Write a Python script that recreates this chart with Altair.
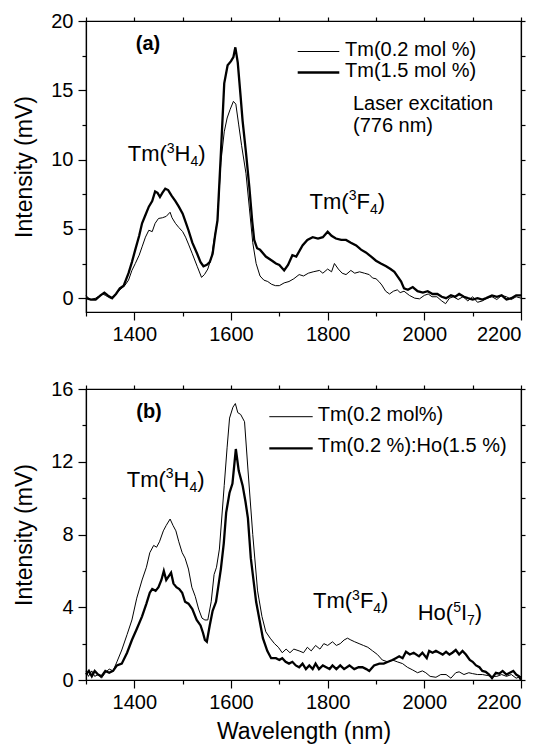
import altair as alt
import pandas as pd

FONT = "Liberation Sans"

# ---------------- panel (a) ----------------
a_thin_name = "Tm(0.2 mol %)"
a_thick_name = "Tm(1.5 mol %)"
a_thin_wl = [1300, 1305, 1310, 1320, 1330, 1335, 1340, 1350, 1355, 1360, 1370, 1380, 1388, 1395, 1402,
             1410, 1416, 1423, 1430, 1437, 1443, 1450, 1458, 1466, 1474, 1478, 1485, 1492, 1500, 1506,
             1512, 1520, 1530, 1539, 1545, 1552, 1560, 1565, 1572, 1579, 1586, 1592, 1598, 1605, 1610,
             1616, 1622, 1631, 1638, 1645, 1652, 1660, 1668, 1676, 1684, 1692, 1700, 1710, 1720, 1730,
             1741, 1750, 1760, 1770, 1783, 1790, 1800, 1808, 1814, 1822, 1830, 1838, 1848, 1856, 1866,
             1876, 1886, 1893, 1900, 1906, 1912, 1920, 1928, 1936, 1944, 1950, 1958, 1969, 1980, 1990,
             2000, 2008, 2016, 2026, 2036, 2044, 2052, 2060, 2070, 2080, 2090, 2100, 2110, 2120, 2130,
             2140, 2150, 2160, 2170, 2180, 2190, 2200]
a_thin_mv = [0.2, 0.0, -0.1, 0.0, 0.2, 0.3, 0.2, 0.0, 0.0, 0.2, 0.6, 0.9, 1.3, 2.0, 2.5,
             3.1, 3.7, 4.4, 4.9, 4.8, 5.4, 5.75, 5.8, 5.9, 6.2, 5.8, 5.4, 5.1, 4.8, 4.4,
             3.9, 3.2, 2.3, 1.5, 1.7, 2.1, 3.0, 4.2, 5.6, 9.8, 12.0, 13.0, 13.6, 14.2, 14.0,
             12.5, 11.0, 9.0, 6.5, 4.0, 2.5, 1.6, 1.3, 1.2, 1.0, 0.9, 0.9, 1.1, 1.2, 1.4,
             1.7, 1.6, 1.8, 1.9, 2.0, 1.8, 2.1, 1.9, 2.5, 2.1, 1.8, 1.7, 2.0, 1.8, 1.9,
             1.8, 1.7, 1.45, 1.4, 1.2, 0.95, 0.5, 0.3, 0.5, 0.6, 0.4, 0.5, 0.2, 0.0, -0.05,
             0.2, 0.3, 0.1, 0.1, -0.2, -0.4, 0.0, 0.1, -0.1, 0.1, -0.2, 0.1, -0.3, -0.2, 0.0,
             0.1, -0.1, 0.2, 0.1, -0.1, 0.1, 0.0]
a_thick_wl = [1300, 1310, 1320, 1330, 1338, 1345, 1354, 1362, 1370, 1378, 1388, 1395, 1402, 1410, 1416,
              1423, 1430, 1437, 1443, 1448, 1453, 1458, 1464, 1470, 1477, 1485, 1492, 1500, 1506, 1512,
              1520, 1530, 1537, 1543, 1550, 1556, 1562, 1567, 1572, 1579, 1586, 1593, 1600, 1605, 1609,
              1614, 1620, 1624, 1631, 1638, 1644, 1648, 1654, 1660, 1672, 1685, 1693, 1700, 1710, 1718,
              1727, 1735, 1748, 1758, 1769, 1780, 1790, 1800, 1808, 1817, 1828, 1838, 1848, 1859, 1869,
              1879, 1890, 1900, 1910, 1921, 1930, 1938, 1946, 1952, 1958, 1966, 1976, 1986, 1997, 2007,
              2017, 2027, 2036, 2045, 2055, 2064, 2072, 2082, 2090, 2100, 2110, 2120, 2128, 2140, 2150,
              2160, 2170, 2180, 2190, 2200]
a_thick_mv = [0.0, -0.1, -0.1, 0.2, 0.4, 0.2, 0.0, 0.3, 0.7, 0.9, 1.8, 2.6, 3.5, 4.5, 5.4,
              6.0, 6.6, 7.0, 7.7, 7.6, 7.3, 7.6, 7.9, 7.8, 7.4, 7.0, 6.6, 6.1, 5.5, 4.9,
              4.0, 3.2, 2.6, 2.3, 2.4, 2.6, 3.2, 4.5, 5.6, 10.4, 15.5, 16.8, 17.1, 17.4, 18.1,
              17.0, 14.5, 12.8, 10.5, 8.0, 5.5, 4.2, 3.6, 3.5, 3.0, 2.7, 2.5, 2.4, 2.0, 2.4,
              3.1, 3.0, 3.8, 4.2, 4.4, 4.3, 4.4, 4.8, 4.5, 4.3, 4.2, 4.2, 4.0, 3.8, 3.5,
              3.3, 3.0, 2.7, 2.5, 2.3, 2.1, 1.9, 1.5, 1.2, 0.7, 0.6, 0.8, 0.5, 0.4, 0.5,
              0.3, 0.3, 0.1, 0.0, 0.2, 0.1, 0.3, 0.1, 0.0, -0.1, 0.0, -0.1, 0.0, 0.2, 0.1,
              0.2, -0.1, 0.0, 0.2, 0.2]

# ---------------- panel (b) ----------------
b_thin_name = "Tm(0.2 mol%)"
b_thick_name = "Tm(0.2 %):Ho(1.5 %)"
b_thin_wl = [1300, 1305, 1312, 1318, 1325, 1332, 1340, 1348, 1356, 1364, 1374, 1385, 1395, 1405, 1416,
             1425, 1432, 1440, 1446, 1452, 1460, 1466, 1474, 1480, 1486, 1492, 1499, 1505, 1512, 1519,
             1526, 1533, 1540, 1546, 1552, 1559, 1565, 1570, 1576, 1586, 1592, 1597, 1604, 1609, 1614,
             1620, 1628, 1635, 1645, 1655, 1664, 1672, 1681, 1690, 1698, 1706, 1714, 1722, 1730, 1741,
             1750, 1758, 1766, 1775, 1784, 1792, 1800, 1810, 1818, 1826, 1834, 1841, 1848, 1856, 1865,
             1874, 1883, 1893, 1903, 1913, 1924, 1934, 1944, 1955, 1965, 1976, 1986, 1996, 2003, 2012,
             2024, 2034, 2045, 2055, 2065, 2072, 2082, 2092, 2100, 2110, 2120, 2130, 2140, 2150, 2160,
             2170, 2180, 2190, 2200]
b_thin_mv = [0.5, 0.2, 0.5, 0.2, 0.3, 0.1, 0.4, 0.6, 0.5, 1.0, 1.65, 2.5, 3.3, 4.5, 5.5,
             6.2, 7.0, 7.4, 7.3, 7.6, 8.2, 8.5, 8.85, 8.5, 8.2, 7.6, 7.0, 6.7, 6.1, 5.1,
             4.6, 3.9, 3.4, 3.3, 3.3, 4.3, 5.8, 6.2, 7.2, 10.7, 12.8, 14.4, 15.0, 15.2, 14.7,
             14.6, 14.2, 11.6, 8.0, 4.9, 3.5, 2.65, 2.3, 2.0, 1.8, 1.5, 1.7, 1.5, 1.7, 1.6,
             1.5, 1.8, 1.6, 1.9, 1.7, 2.0, 1.9, 2.1, 1.9, 2.0, 2.2, 2.3, 2.2, 2.1, 2.0,
             1.9, 1.8, 1.6, 1.4, 1.1, 1.0, 1.1, 1.0, 0.9, 0.7, 0.55, 0.4, 0.5, 0.4, 0.2,
             0.15, 0.3, 0.3, 0.1, 0.4, 0.45, 0.3, 0.4, 0.35, 0.3, 0.3, 0.25, 0.2, 0.2, 0.3,
             0.2, 0.3, 0.1, 0.2]
b_thick_wl = [1300, 1306, 1312, 1318, 1325, 1332, 1340, 1348, 1356, 1364, 1374, 1385, 1395, 1405, 1416,
              1425, 1432, 1437, 1444, 1450, 1456, 1461, 1466, 1471, 1476, 1481, 1487, 1493, 1499, 1505,
              1512, 1520, 1529, 1537, 1542, 1546, 1550, 1556, 1562, 1569, 1579, 1585, 1590, 1597, 1603,
              1610, 1616, 1624, 1630, 1635, 1641, 1652, 1659, 1666, 1675, 1683, 1693, 1700, 1706, 1713,
              1720, 1727, 1734, 1741, 1748, 1755, 1762, 1769, 1775, 1782, 1790, 1797, 1804, 1810, 1818,
              1826, 1834, 1845, 1855, 1864, 1872, 1880, 1886, 1896, 1907, 1916, 1925, 1934, 1941, 1948,
              1955, 1962, 1970, 1978, 1989, 1996, 2005, 2010, 2017, 2024, 2031, 2038, 2045, 2052, 2058,
              2065, 2072, 2079, 2086, 2094, 2100, 2107, 2114, 2120, 2127, 2134, 2140, 2148, 2155, 2162,
              2170, 2177, 2184, 2190, 2196, 2200]
b_thick_mv = [0.3, 0.5, 0.2, 0.5, 0.3, 0.2, 0.5, 0.4, 0.5, 0.8, 0.9, 1.5, 2.2, 2.8, 3.5,
              4.2, 4.8, 5.0, 4.9, 5.1, 5.5, 6.0, 5.5, 5.7, 5.9, 5.3, 5.1, 5.0, 4.8, 4.3,
              4.2, 3.9, 3.3, 3.0, 2.6, 2.2, 2.1, 3.0, 3.8, 4.3, 6.1, 7.5, 9.2, 10.3, 10.8,
              12.7, 11.5, 10.7, 9.8, 8.9, 6.7, 4.3, 3.3, 2.3, 1.6, 1.2, 1.2, 1.1, 1.2, 1.0,
              0.9, 1.0, 0.8, 0.7, 0.9, 0.6, 0.8, 0.6, 0.9, 0.6, 0.8, 0.7, 0.6, 0.8, 0.6,
              0.8, 0.6, 0.8, 0.6, 0.7, 0.7, 0.6, 0.5, 0.8, 0.9, 0.9, 1.0, 1.1, 1.2, 1.3,
              1.2, 1.55, 1.4, 1.5, 1.3, 1.5, 1.2, 1.6, 1.5, 1.6, 1.5, 1.4, 1.55, 1.4, 1.5,
              1.65, 1.4, 1.6, 1.4, 1.1, 1.0, 0.8, 0.7, 0.5, 0.45, 0.3, 0.1, 0.4, 0.35, 0.5,
              0.3, 0.4, 0.5, 0.3, 0.2, 0.0]

X_TICKS = [1300, 1400, 1500, 1600, 1700, 1800, 1900, 2000, 2100, 2200]
A_Y_TICKS = [0, 2.5, 5, 7.5, 10, 12.5, 15, 17.5, 20]
B_Y_TICKS = [0, 2, 4, 6, 8, 10, 12, 14, 16]

ADV = {'T': 0.611, 'm': 0.833, '(': 0.333, ')': 0.333, 'H': 0.722, 'F': 0.611,
       'I': 0.278, 'o': 0.556}


def text_width(s, size):
    return sum(ADV.get(c, 0.556) for c in s) * size


def one():
    return alt.Data(values=[{"k": 0}])


def txt(s, x, y, size=20, align="left", baseline="alphabetic", weight="normal"):
    return alt.Chart(one()).mark_text(
        text=s, font=FONT, fontSize=size, align=align, baseline=baseline,
        fontWeight=weight, color="black"
    ).encode(x=alt.value(x), y=alt.value(y))


def rich(segments, x0, y0, size=22, small=14):
    layers = []
    x = x0
    for s, kind in segments:
        fs = size if kind == "n" else small
        dy = 0 if kind == "n" else (-8.5 if kind == "sup" else 5)
        layers.append(txt(s, x, y0 + dy, size=fs))
        x += text_width(s, fs)
    return layers


def legend_line(x1, x2, y, w):
    return alt.Chart(one()).mark_rule(color="black", strokeWidth=w).encode(
        x=alt.value(x1), x2=alt.value(x2), y=alt.value(y))


def panel(thin_name, thick_name, thin_wl, thin_mv, thick_wl, thick_mv,
          ydom, yticks, ymajor, xtitle, extra):
    df = pd.concat([
        pd.DataFrame({"wl": thin_wl, "mv": thin_mv, "series": thin_name}),
        pd.DataFrame({"wl": thick_wl, "mv": thick_mv, "series": thick_name}),
    ], ignore_index=True)
    xs = alt.Scale(domain=[1300, 2200], nice=False, zero=False)
    ys = alt.Scale(domain=ydom, nice=False, zero=False)
    xaxis = alt.Axis(values=X_TICKS, format="d", title=xtitle,
                     labelExpr="datum.value % 200 == 0 ? datum.label : ''",
                     tickSize=alt.condition("datum.value % 200 == 0", alt.value(8), alt.value(4)),
                     labelPadding=4, titlePadding=8)
    yaxis = alt.Axis(values=yticks, format="d", title="Intensity (mV)",
                     labelExpr=f"datum.value % {ymajor} == 0 ? datum.label : ''",
                     tickSize=alt.condition(f"datum.value % {ymajor} == 0", alt.value(8), alt.value(4)),
                     labelPadding=5, titlePadding=14)
    lines = alt.Chart(df).mark_line(color="black").encode(
        x=alt.X("wl:Q", scale=xs, axis=xaxis),
        y=alt.Y("mv:Q", scale=ys, axis=yaxis),
        detail="series:N",
        strokeWidth=alt.StrokeWidth("series:N",
                                    scale=alt.Scale(domain=[thin_name, thick_name], range=[1.0, 2.3]),
                                    legend=None),
    )
    mirror = alt.Chart(df).mark_line(opacity=0).encode(
        x=alt.X("wl:Q", scale=xs, axis=alt.Axis(orient="top", values=X_TICKS, labels=False,
                                                 title=None, tickSize=4)),
        y=alt.Y("mv:Q", scale=ys, axis=alt.Axis(orient="right", values=yticks, labels=False,
                                                 title=None, tickSize=4)),
        detail="series:N",
    )
    return alt.layer(lines, mirror, *extra).resolve_axis(
        x="independent", y="independent").properties(width=435, height=291)


extra_a = [
    txt("(a)", 62, 23.3, size=20, align="center", baseline="middle", weight="bold"),
    legend_line(211.7, 253.3, 30.5, 1.0),
    legend_line(211.7, 253.3, 51.5, 2.3),
    txt(a_thin_name, 259, 28.5, baseline="middle"),
    txt(a_thick_name, 259, 49.5, baseline="middle"),
    txt("Laser excitation", 267, 89),
    txt("(776 nm)", 267, 111),
] + rich([("Tm(", "n"), ("3", "sup"), ("H", "n"), ("4", "sub"), (")", "n")], 41.7, 140) \
  + rich([("Tm(", "n"), ("3", "sup"), ("F", "n"), ("4", "sub"), (")", "n")], 223.6, 187.6)

extra_b = [
    txt("(b)", 63, 22.7, size=20, align="center", baseline="middle", weight="bold"),
    legend_line(183.3, 226.7, 27.7, 1.0),
    legend_line(183.3, 226.7, 59.3, 2.3),
    txt(b_thin_name, 231.7, 25.5, baseline="middle"),
    txt(b_thick_name, 231.7, 57, baseline="middle"),
] + rich([("Tm(", "n"), ("3", "sup"), ("H", "n"), ("4", "sub"), (")", "n")], 40.7, 97.7) \
  + rich([("Tm(", "n"), ("3", "sup"), ("F", "n"), ("4", "sub"), (")", "n")], 227, 219) \
  + rich([("Ho(", "n"), ("5", "sup"), ("I", "n"), ("7", "sub"), (")", "n")], 331.7, 231)

top = panel(a_thin_name, a_thick_name, a_thin_wl, a_thin_mv, a_thick_wl, a_thick_mv,
            [-1, 20], A_Y_TICKS, 5, None, extra_a)
bottom = panel(b_thin_name, b_thick_name, b_thin_wl, b_thin_mv, b_thick_wl, b_thick_mv,
               [0, 16], B_Y_TICKS, 4, "Wavelength (nm)", extra_b)

chart = alt.vconcat(top, bottom, spacing=33).resolve_scale(
    strokeWidth="independent"
).properties(
    padding={"left": 5, "top": 2, "right": 5, "bottom": 2}
).configure_view(stroke="black", strokeWidth=1.2).configure_axis(
    labelFont=FONT, titleFont=FONT, labelFontSize=20, titleFontSize=23,
    titleFontWeight="normal", labelColor="black", titleColor="black",
    domainColor="black", tickColor="black", domainWidth=1.2, tickWidth=1.2, grid=False
)

chart.save("out.html", embed_options={"renderer": "svg", "actions": False})
